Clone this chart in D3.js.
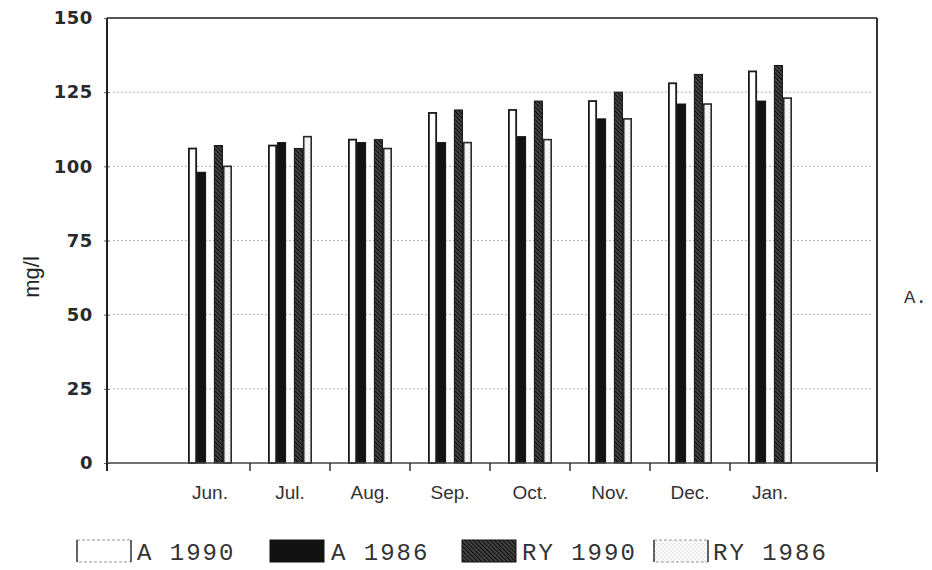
<!DOCTYPE html>
<html>
<head>
<meta charset="utf-8">
<script src="https://cdn.jsdelivr.net/npm/d3@7"></script>
<style>
  body { margin: 0; background: #fff; }
  svg { display: block; }
</style>
</head>
<body>
<svg id="chart" width="932" height="570"></svg>
<script>
// Monthly concentrations (mg/l) at sites A and RY, 1990 vs 1986
const months = ["Jun.", "Jul.", "Aug.", "Sep.", "Oct.", "Nov.", "Dec.", "Jan."];
const a1990  = [106, 107, 109, 118, 119, 122, 128, 132];
const a1986  = [98, 108, 108, 108, 110, 116, 121, 122];
const ry1990 = [107, 106, 109, 119, 122, 125, 131, 134];
const ry1986 = [100, 110, 106, 108, 109, 116, 121, 123];
const yTicks = [0, 25, 50, 75, 100, 125, 150];
const sites = ["A", "RY"];
const years = ["1990", "1986"];

const series = [
  { site: "A",  year: "1990", values: a1990,  style: "a90" },
  { site: "A",  year: "1986", values: a1986,  style: "a86" },
  { site: "RY", year: "1990", values: ry1990, style: "ry90" },
  { site: "RY", year: "1986", values: ry1986, style: "ry86" }
];

const svg = d3.select("#chart");
const plot = { left: 107, right: 877, top: 18, bottom: 463 };

// Scales
const y = d3.scaleLinear().domain([0, 150]).range([plot.bottom, plot.top]);
const x = d3.scaleBand().domain(months)
  .range([plot.left + 63, plot.right - 67])
  .paddingInner(0.45).paddingOuter(0.225);
const xSite = d3.scaleBand().domain(sites).range([0, x.bandwidth()]).paddingInner(0.3);
const xYear = d3.scaleBand().domain(years).range([0, xSite.bandwidth()]);

// Fill patterns
const defs = svg.append("defs");
const hatch = defs.append("pattern").attr("id", "hatch")
  .attr("width", 3).attr("height", 3)
  .attr("patternUnits", "userSpaceOnUse")
  .attr("patternTransform", "rotate(-45)");
hatch.append("rect").attr("width", 3).attr("height", 3).attr("fill", "#444");
hatch.append("line").attr("x1", 0).attr("y1", 0).attr("x2", 0).attr("y2", 3)
  .attr("stroke", "#0e0e0e").attr("stroke-width", 2.2);

const dots = defs.append("pattern").attr("id", "dots")
  .attr("width", 4).attr("height", 4)
  .attr("patternUnits", "userSpaceOnUse");
dots.append("rect").attr("width", 4).attr("height", 4).attr("fill", "#fff");
dots.append("circle").attr("cx", 1).attr("cy", 1).attr("r", 0.6).attr("fill", "#aaa");
dots.append("circle").attr("cx", 3).attr("cy", 3).attr("r", 0.6).attr("fill", "#aaa");

const styles = {
  a90:  { fill: "#fff",        stroke: "#1a1a1a", width: 1.8 },
  a86:  { fill: "#121212",     stroke: "#121212", width: 1 },
  ry90: { fill: "url(#hatch)", stroke: "#121212", width: 1 },
  ry86: { fill: "url(#dots)",  stroke: "#2a2a2a", width: 1.6 }
};

// Dotted horizontal grid
svg.append("g").selectAll("line")
  .data(yTicks.filter(d => d > 0 && d < 150))
  .join("line")
  .attr("x1", plot.left + 6).attr("x2", plot.right - 6)
  .attr("y1", d => y(d)).attr("y2", d => y(d))
  .attr("stroke", "#b4b4b4").attr("stroke-width", 1)
  .attr("stroke-dasharray", "2,2");

// Bars
const groups = svg.append("g").selectAll("g")
  .data(months)
  .join("g")
  .attr("transform", d => `translate(${x(d)},0)`);

groups.selectAll("rect")
  .data((m, i) => series.map(s => ({ s, v: s.values[i] })))
  .join("rect")
  .attr("x", d => xSite(d.s.site) + xYear(d.s.year) + styles[d.s.style].width / 2)
  .attr("width", d => xYear.bandwidth() - styles[d.s.style].width)
  .attr("y", d => y(d.v))
  .attr("height", d => y(0) - y(d.v))
  .attr("fill", d => styles[d.s.style].fill)
  .attr("stroke", d => styles[d.s.style].stroke)
  .attr("stroke-width", d => styles[d.s.style].width);

// Frame: top and right borders
svg.append("line")
  .attr("x1", plot.left).attr("x2", plot.right)
  .attr("y1", plot.top).attr("y2", plot.top)
  .attr("stroke", "#555").attr("stroke-width", 2);
svg.append("line")
  .attr("x1", plot.right).attr("x2", plot.right)
  .attr("y1", plot.top).attr("y2", plot.bottom + 9)
  .attr("stroke", "#333").attr("stroke-width", 2);

// Y axis
const yAxis = svg.append("g")
  .attr("transform", `translate(${plot.left},0)`)
  .call(d3.axisLeft(y).tickValues(yTicks).tickSize(4).tickPadding(10));
yAxis.select(".domain").remove();
yAxis.append("line")
  .attr("x1", 0).attr("x2", 0)
  .attr("y1", plot.top).attr("y2", plot.bottom + 8)
  .attr("stroke", "#222").attr("stroke-width", 2);
yAxis.selectAll(".tick line").attr("stroke", "#666").attr("x2", 3).attr("x1", -3);
yAxis.selectAll(".tick text")
  .attr("font-family", "DejaVu Sans, sans-serif")
  .attr("font-weight", "bold")
  .attr("font-size", 18)
  .attr("letter-spacing", 0.6)
  .attr("fill", "#2a2a2a");

// X axis: ticks at the boundaries between months
const xAxis = svg.append("g");
xAxis.append("line")
  .attr("x1", plot.left).attr("x2", plot.right)
  .attr("y1", plot.bottom).attr("y2", plot.bottom)
  .attr("stroke", "#444").attr("stroke-width", 1.3);
xAxis.selectAll("line.sep")
  .data(months.slice(1))
  .join("line").attr("class", "sep")
  .attr("x1", d => x(d) - x.step() * x.paddingInner() / 2)
  .attr("x2", d => x(d) - x.step() * x.paddingInner() / 2)
  .attr("y1", plot.bottom).attr("y2", plot.bottom + 8)
  .attr("stroke", "#333").attr("stroke-width", 1.5);
xAxis.selectAll("text")
  .data(months)
  .join("text")
  .attr("x", d => x(d) + x.bandwidth() / 2)
  .attr("y", plot.bottom + 36)
  .attr("text-anchor", "middle")
  .attr("font-family", "Liberation Sans, Arial, sans-serif")
  .attr("font-size", 19)
  .attr("fill", "#333")
  .text(d => d);

// Y axis title
svg.append("text")
  .attr("transform", "translate(39,277) rotate(-90)")
  .attr("text-anchor", "middle")
  .attr("font-family", "Liberation Sans, Arial, sans-serif")
  .attr("font-size", 22)
  .attr("fill", "#222")
  .text("mg/l");

// Panel tag
svg.append("text")
  .attr("x", 904).attr("y", 303)
  .attr("font-family", "Liberation Mono, monospace")
  .attr("font-size", 19)
  .attr("fill", "#333")
  .text("A.");

// Legend
const legendItems = [
  { s: series[0], bx: 77,  tx: 137 },
  { s: series[1], bx: 270, tx: 331 },
  { s: series[2], bx: 462, tx: 522 },
  { s: series[3], bx: 654, tx: 713 }
];
const legend = svg.append("g");
legendItems.forEach(it => {
  const st = styles[it.s.style];
  const open = it.s.style === "a90" || it.s.style === "ry86";
  const g = legend.append("g");
  g.append("rect")
    .attr("x", it.bx).attr("y", 540).attr("width", 54).attr("height", 22)
    .attr("fill", st.fill)
    .attr("stroke", open ? "#999" : st.stroke)
    .attr("stroke-width", 1)
    .attr("stroke-dasharray", open ? "3,2" : null);
  if (open) {
    // bracket-like side edges
    [it.bx, it.bx + 54].forEach(ex => {
      g.append("line").attr("x1", ex).attr("x2", ex).attr("y1", 540).attr("y2", 562)
        .attr("stroke", "#444").attr("stroke-width", 1.6);
    });
  }
  g.append("text")
    .attr("x", it.tx).attr("y", 560)
    .attr("font-family", "Liberation Mono, monospace")
    .attr("font-size", 24)
    .attr("letter-spacing", 2)
    .attr("fill", "#333")
    .text(`${it.s.site} ${it.s.year}`);
});
</script>
</body>
</html>
